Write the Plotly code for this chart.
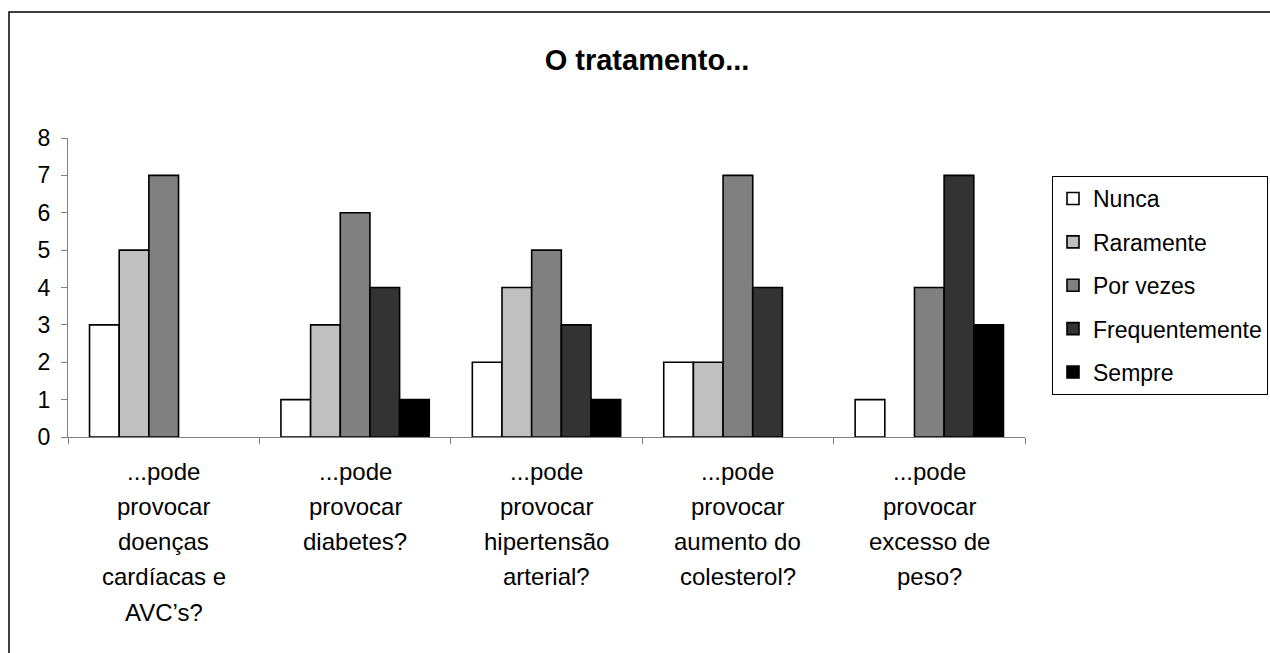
import plotly.graph_objects as go

# Question labels, one list of lines per category
label_lines = [
    ["...pode", "provocar", "doenças", "cardíacas e", "AVC’s?"],
    ["...pode", "provocar", "diabetes?"],
    ["...pode", "provocar", "hipertensão", "arterial?"],
    ["...pode", "provocar", "aumento do", "colesterol?"],
    ["...pode", "provocar", "excesso de", "peso?"],
]
categories = [" ".join(lines) for lines in label_lines]

series_names = ["Nunca", "Raramente", "Por vezes", "Frequentemente", "Sempre"]
nunca = [3, 1, 2, 2, 1]
raramente = [5, 3, 4, 2, 0]
por_vezes = [7, 6, 5, 7, 4]
frequentemente = [0, 4, 3, 4, 7]
sempre = [0, 1, 1, 0, 3]
series_values = [nunca, raramente, por_vezes, frequentemente, sempre]
series_colors = ["#FFFFFF", "#C0C0C0", "#808080", "#333333", "#000000"]

y_ticks = [0, 1, 2, 3, 4, 5, 6, 7, 8]

FONT = "Liberation Sans, Arial, sans-serif"
W, H = 1270, 653
L, R, T, B = 68, 245, 138, 216
plot_w = W - L - R
plot_h = H - T - B

fig = go.Figure()
for name, vals, col in zip(series_names, series_values, series_colors):
    fig.add_trace(go.Bar(
        name=name,
        x=categories,
        # zero counts leave an empty slot instead of an outlined flat bar
        y=[v if v else None for v in vals],
        legendgroup=name,
        marker=dict(color=col, line=dict(color="#000000", width=1.6)),
        hoverinfo="skip",
    ))

# Multi-line category labels under the axis
annotations = []
for cat, lines in zip(categories, label_lines):
    for j, line in enumerate(lines):
        annotations.append(dict(
            x=cat, xref="x", y=0, yref="paper",
            yanchor="middle", yshift=-(34 + 35.25 * j),
            text=line, showarrow=False,
            font=dict(family=FONT, size=24, color="#000000"),
        ))

def px_x(p):
    return (p - L) / plot_w

def px_y(p):
    return (H - B - p) / plot_h

fig.update_layout(
    width=W, height=H,
    margin=dict(l=L, r=R, t=T, b=B, autoexpand=False),
    paper_bgcolor="#FFFFFF",
    plot_bgcolor="#FFFFFF",
    font=dict(family=FONT, size=23, color="#000000"),
    title=dict(
        text="<b>O tratamento...</b>",
        x=647 / W, xref="container", xanchor="center",
        y=1 - 60 / H, yref="container", yanchor="middle",
        font=dict(family=FONT, size=29, color="#000000"),
    ),
    barmode="group",
    bargap=0.225,
    bargroupgap=0,
    xaxis=dict(
        type="category",
        range=[-0.5, len(categories) - 0.5],
        showline=True, linecolor="#808080", linewidth=1,
        ticks="outside", tickson="boundaries", ticklen=6, tickcolor="#808080",
        showticklabels=False, showgrid=False, zeroline=False,
        fixedrange=True,
    ),
    yaxis=dict(
        range=[0, 8],
        tickvals=y_ticks,
        showline=True, linecolor="#808080", linewidth=1,
        ticks="outside", ticklen=6, tickcolor="#808080",
        ticklabelstandoff=6,
        tickfont=dict(family=FONT, size=23, color="#000000"),
        showgrid=False, zeroline=False,
        fixedrange=True,
    ),
    legend=dict(
        x=px_x(1052), xanchor="left",
        y=px_y(176), yanchor="top",
        bordercolor="#000000", borderwidth=1,
        bgcolor="#FFFFFF",
        font=dict(family=FONT, size=23, color="#000000"),
        traceorder="grouped",
        tracegroupgap=10.5,
        entrywidth=240, entrywidthmode="pixels",
    ),
    annotations=annotations,
    shapes=[dict(
        type="rect", xref="paper", yref="paper",
        x0=px_x(9), x1=px_x(1300), y0=px_y(680), y1=px_y(12),
        line=dict(color="#000000", width=1.5),
        fillcolor="rgba(0,0,0,0)", layer="below",
    )],
    showlegend=True,
)

fig.write_html("out.html", config={"displayModeBar": False, "staticPlot": True})
